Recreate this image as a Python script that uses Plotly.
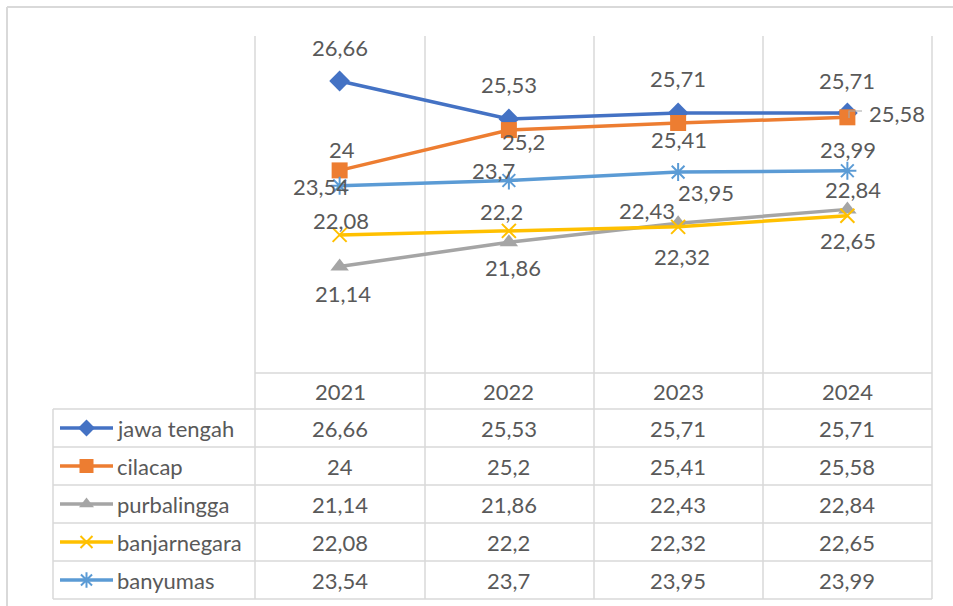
import plotly.graph_objects as go

# ---------------- data ----------------
years = ["2021", "2022", "2023", "2024"]
series_names = ["jawa tengah", "cilacap", "purbalingga", "banjarnegara", "banyumas"]
jawa_tengah = [26.66, 25.53, 25.71, 25.71]
cilacap = [24, 25.2, 25.41, 25.58]
purbalingga = [21.14, 21.86, 22.43, 22.84]
banjarnegara = [22.08, 22.2, 22.32, 22.65]
banyumas = [23.54, 23.7, 23.95, 23.99]
series_values = [jawa_tengah, cilacap, purbalingga, banjarnegara, banyumas]

# ---------------- styles ----------------
W, H = 953, 606
colors = ["#4472C4", "#ED7D31", "#A5A5A5", "#FFC000", "#5B9BD5"]
symbols = ["diamond", "square", "triangle-up", "x-thin-open", "asterisk-open"]
msizes = [16, 16, 16, 14, 15]
legend_msizes = [13, 14, 13, 12, 13]
TXT = "#595959"
GRID = "#D9D9D9"
FONT = "Lato"
FS = 22

# data label offsets in pixels (dx right, dy down) per series / point
label_offsets = [
    [(0, -34), (0, -34), (0, -34), (0, -32)],
    [(2, -21), (15, 11), (1, 16), (50, -4)],
    [(3, 27), (4, 25), (-31, -13), (6, -20)],
    [(1, -14), (-7, -19), (4, 30), (1, 25)],
    [(-19, 1), (-15, -10), (28, 20), (1, -21)],
]


def px(x):
    return x / W


def py(y):
    return 1 - y / H


def fmt(v):
    return f"{v:g}".replace(".", ",")


fig = go.Figure()
xs = list(range(len(years)))

for i, (name, vals) in enumerate(zip(series_names, series_values)):
    lw = 2 if "open" in symbols[i] else 0
    fig.add_trace(go.Scatter(
        x=xs, y=vals, mode="lines+markers", name=name,
        line=dict(color=colors[i], width=3.5),
        marker=dict(symbol=symbols[i], size=msizes[i], color=colors[i],
                    line=dict(color=colors[i], width=lw)),
        showlegend=False, hoverinfo="skip", cliponaxis=False,
    ))
    # legend key samples in the table (second axes)
    fig.add_trace(go.Scatter(
        x=[0, 1], y=[i + 0.5, i + 0.5], mode="lines",
        line=dict(color=colors[i], width=3.5),
        xaxis="x2", yaxis="y2", showlegend=False, hoverinfo="skip",
    ))
    fig.add_trace(go.Scatter(
        x=[0.5], y=[i + 0.5], mode="markers",
        marker=dict(symbol=symbols[i], size=legend_msizes[i], color=colors[i],
                    line=dict(color=colors[i], width=lw)),
        xaxis="x2", yaxis="y2", showlegend=False, hoverinfo="skip",
    ))

annotations = []
# data labels
for i, vals in enumerate(series_values):
    for j, v in enumerate(vals):
        dx, dy = label_offsets[i][j]
        annotations.append(dict(
            x=j, y=v, xref="x", yref="y", text=fmt(v), showarrow=False,
            xanchor="center", yanchor="middle",
            xshift=dx, yshift=-dy, font=dict(family=FONT, size=FS, color=TXT),
        ))

# table geometry (pixels)
col_centers = [340, 509, 678, 847]
header_top, header_bot = 373, 409
row_lines = [409, 447, 485, 523, 561, 599]

for j, yr in enumerate(years):
    annotations.append(dict(
        x=px(col_centers[j]), y=py((header_top + header_bot) / 2), xref="paper", yref="paper",
        xanchor="center", yanchor="middle",
        text=yr, showarrow=False, font=dict(family=FONT, size=FS, color=TXT),
    ))

for i, (name, vals) in enumerate(zip(series_names, series_values)):
    yc = (row_lines[i] + row_lines[i + 1]) / 2
    annotations.append(dict(
        x=px(115), y=py(yc), xref="paper", yref="paper", xanchor="left", yanchor="middle",
        text=name, showarrow=False, font=dict(family=FONT, size=FS, color=TXT),
    ))
    for j, v in enumerate(vals):
        annotations.append(dict(
            x=px(col_centers[j]), y=py(yc), xref="paper", yref="paper",
            xanchor="center", yanchor="middle",
            text=fmt(v), showarrow=False, font=dict(family=FONT, size=FS, color=TXT),
        ))

shapes = []


def pline(x0, y0, x1, y1, color=GRID, width=1.5):
    shapes.append(dict(type="line", xref="paper", yref="paper",
                       x0=px(x0), y0=py(y0), x1=px(x1), y1=py(y1),
                       line=dict(color=color, width=width), layer="below"))


# outer chart border
pline(7, 7, W + 5, 7, width=2)
pline(7, 7, 7, H + 5, width=2)
# vertical grid / table columns
for xv in [255, 425, 594, 763, 932]:
    pline(xv, 36, xv, 599)
pline(53, 409, 53, 599)
# horizontal table lines
pline(255, 373, 932, 373)
for yv in row_lines:
    pline(53, yv, 932, yv)
# leader line for one label
shapes.append(dict(type="path", xref="paper", yref="paper",
                   path=f"M {px(849)} {py(118)} L {px(849)} {py(111)} L {px(862)} {py(111)}",
                   line=dict(color="#A6A6A6", width=1.2)))

fig.update_layout(
    width=W, height=H, margin=dict(l=0, r=0, t=0, b=0),
    paper_bgcolor="white", plot_bgcolor="rgba(0,0,0,0)",
    xaxis=dict(domain=[px(255), px(932)], range=[-0.5, 3.5], visible=False, fixedrange=True),
    yaxis=dict(domain=[py(372), py(36)], range=[18, 28], visible=False, fixedrange=True),
    xaxis2=dict(domain=[px(60), px(113)], range=[0, 1], visible=False, anchor="y2", fixedrange=True),
    yaxis2=dict(domain=[py(599), py(409)], range=[5, 0], visible=False, anchor="x2", fixedrange=True),
    annotations=annotations, shapes=shapes, showlegend=False,
)

fig.write_html("out.html", config={"displayModeBar": False, "staticPlot": True},
               post_script="document.body.style.margin='0';document.body.style.overflow='hidden';")
